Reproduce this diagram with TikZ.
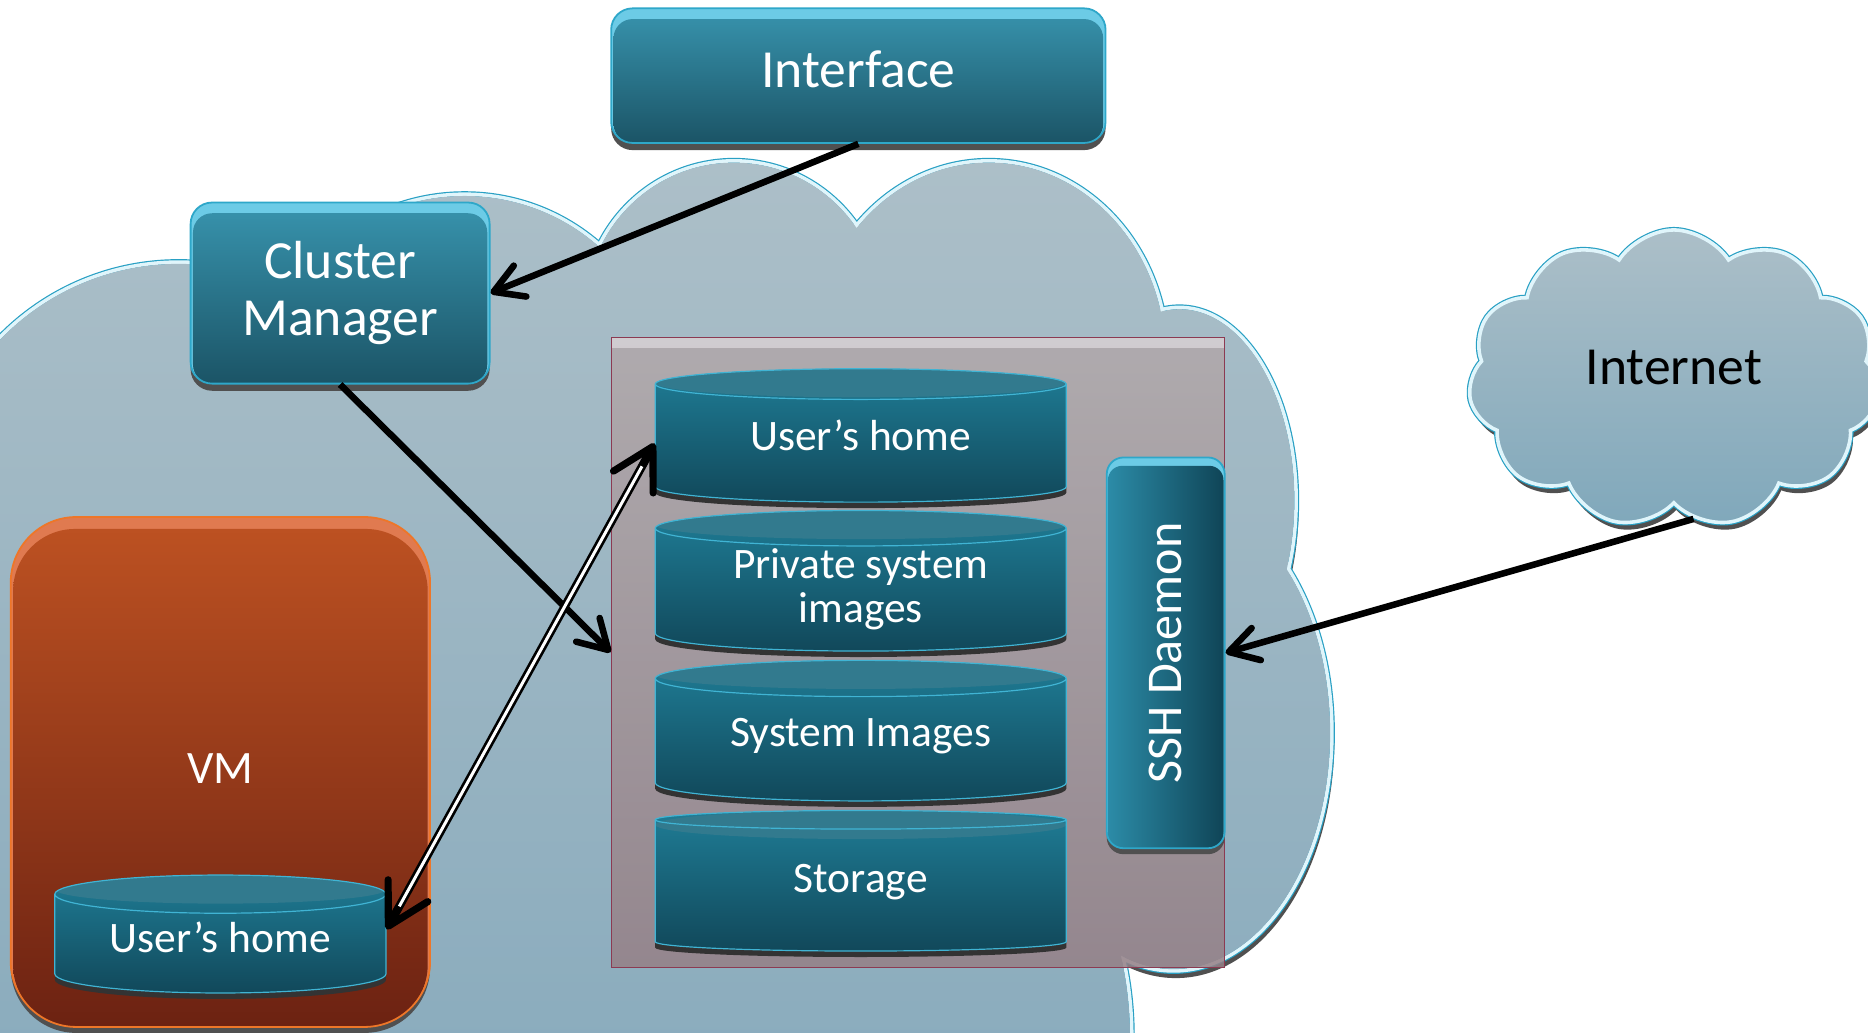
\documentclass[tikz,border=0pt]{standalone}
\usepackage{fontspec}
\setmainfont{Carlito}
\usetikzlibrary{positioning,shapes.geometric,shapes.symbols,shadows,arrows.meta,calc}

\definecolor{cloudtop}{RGB}{172,191,200}
\definecolor{cloudbot}{RGB}{128,166,186}
\definecolor{netbot}{RGB}{128,168,187}
\definecolor{cloudline}{RGB}{41,160,196}
\definecolor{cloudhl}{RGB}{224,245,251}
\definecolor{shadowc}{RGB}{80,80,80}
\definecolor{boxtop}{RGB}{56,148,174}
\definecolor{boxbot}{RGB}{27,84,102}
\definecolor{boxrim}{RGB}{108,203,230}
\definecolor{boxline}{RGB}{46,167,201}
\definecolor{cyltop}{RGB}{31,125,150}
\definecolor{cylbot}{RGB}{17,72,90}
\definecolor{cylend}{RGB}{50,122,142}
\definecolor{cylline}{RGB}{64,180,212}
\definecolor{vmtop}{RGB}{190,82,34}
\definecolor{vmbot}{RGB}{108,34,18}
\definecolor{vmrim}{RGB}{224,122,80}
\definecolor{vmline}{RGB}{238,118,40}
\definecolor{storetop}{RGB}{177,168,170}
\definecolor{storebot}{RGB}{150,128,134}
\definecolor{storeline}{RGB}{140,58,82}
\definecolor{storerim}{RGB}{214,210,214}
\definecolor{sshleft}{RGB}{44,140,168}
\definecolor{sshright}{RGB}{15,68,86}

\newcommand{\cloudbumps}{150/430/210/210, 390/330/170/167, 616/262/126/127, 830/300/150/165, 990/420/98/162, 985/615/133/200, 745/870/205/250, 480/640/520/330, 100/900/300/200}
\newcommand{\liftby}[2]{\raisebox{#1}[0pt][0pt]{#2}}

\begin{document}
\begin{tikzpicture}[x=1pt, y=-1pt,
  box/.style={rounded corners=18pt, draw=boxline, line width=1.5pt, fill=boxrim, text=white, inner sep=0pt, align=center, font=\fontsize{45}{48}\selectfont, drop shadow={shadow xshift=0pt, shadow yshift=-6pt, fill=shadowc, opacity=1}, path picture={\shade[top color=boxtop, bottom color=boxbot, rounded corners=16pt] ([shift={(2pt,-9pt)}]path picture bounding box.north west) rectangle ([shift={(-2pt,0pt)}]path picture bounding box.south east);}},
  vmbox/.style={rounded corners=55pt, draw=vmline, line width=1.5pt, fill=vmrim, text=white, inner sep=0pt, font=\fontsize{39}{42}\selectfont, drop shadow={shadow xshift=0pt, shadow yshift=-5pt, fill=shadowc, opacity=1}, path picture={\shade[top color=vmtop, bottom color=vmbot, rounded corners=52pt] ([shift={(2pt,-10pt)}]path picture bounding box.north west) rectangle ([shift={(-2pt,0pt)}]path picture bounding box.south east);}},
  store/.style={draw=storeline, line width=1pt, top color=storetop, bottom color=storebot, fill opacity=0.85, inner sep=0pt, path picture={\fill[storerim] (path picture bounding box.north west) rectangle ([yshift=-9pt]path picture bounding box.north east);}},
  cyl/.style={cylinder, shape border rotate=90, aspect=0.139, anchor=shape center, draw=cylline, line width=1pt, top color=cyltop, bottom color=cylbot, text=white, inner sep=0pt, minimum width=345pt, minimum height=118pt, font=\fontsize{36.5}{37}\selectfont, drop shadow={shadow xshift=0pt, shadow yshift=-5pt, fill=black!80, opacity=1}, path picture={\fill[cylend] let \p1=(path picture bounding box.west), \p2=(path picture bounding box.east) in ([yshift=-12pt]path picture bounding box.north) ellipse [x radius={(\x2-\x1)/2}, y radius=12pt];}},
  ssh/.style={rounded corners=14pt, draw=boxline, line width=1.5pt, fill=boxrim, text=white, inner sep=0pt, font=\fontsize{42}{44}\selectfont, drop shadow={shadow xshift=0pt, shadow yshift=-5pt, fill=shadowc, opacity=1}, path picture={\shade[left color=sshleft, right color=sshright, rounded corners=12pt] ([shift={(1pt,-7pt)}]path picture bounding box.north west) rectangle ([shift={(-1pt,0pt)}]path picture bounding box.south east);}},
  net/.style={cloud, cloud puffs=11, cloud puff arc=115, aspect=1.38, minimum width=345pt, minimum height=250pt, inner sep=0pt, draw=cloudhl, line width=3pt, top color=cloudtop, bottom color=netbot, drop shadow={shadow xshift=2pt, shadow yshift=-6pt, fill=shadowc, opacity=1}, preaction={draw=cloudline, line width=5pt}, text=black, font=\fontsize{45}{48}\selectfont},
  flow/.style={line width=5.5pt, -{Straight Barb[length=24pt, width=28pt, round]}},
  link/.style={line width=7pt, {Straight Barb[length=34pt, width=38pt, round, line width=6pt 0]}-{Straight Barb[length=34pt, width=38pt, round, line width=6pt 0]}},
  linkgap/.style={draw=white, line width=2.5pt, shorten <=22pt, shorten >=22pt}]
\useasboundingbox (0,0) rectangle (1568,867);
\clip (0,0) rectangle (1568,867);
\fill[white] (0,0) rectangle (1568,867);

\fill[shadowc] \foreach \cx/\cy/\rx/\ry in \cloudbumps {(\cx+2,\cy+6) ellipse [x radius=\rx, y radius=\ry]};
\draw[cloudline, line width=5pt] \foreach \cx/\cy/\rx/\ry in \cloudbumps {(\cx,\cy) ellipse [x radius=\rx, y radius=\ry]};
\draw[cloudhl, line width=3pt] \foreach \cx/\cy/\rx/\ry in \cloudbumps {(\cx,\cy) ellipse [x radius=\rx, y radius=\ry]};
\shade[top color=cloudtop, bottom color=cloudbot] \foreach \cx/\cy/\rx/\ry in \cloudbumps {(\cx,\cy) ellipse [x radius=\rx-1.5, y radius=\ry-1.5]};

\node[box, minimum width=415pt, minimum height=113pt] (int) at (720.5,63.5) {\liftby{-10pt}{Interface}};
\node[box, minimum width=251pt, minimum height=152pt] (cm) at (285.5,246) {Cluster\\Manager};
\node[vmbox, minimum width=352pt, minimum height=428pt] (vm) at (185,648) {\liftby{-10pt}{VM}};
\node[cyl, minimum width=278pt, minimum height=99pt, aspect=0.173] (vmhome) at (185,784) {\liftby{-7.5pt}{User’s home}};
\node[store, minimum width=515pt, minimum height=529pt] (store) at (770.5,547.5) {};
\node[cyl, minimum height=112pt] (home) at (722.5,365.5) {\liftby{-6pt}{User’s home}};
\node[cyl] (priv) at (722.5,487.5) {\liftby{-7.5pt}{\begin{tabular}{@{}c@{}}Private system\\images\end{tabular}}};
\node[cyl] (sysimg) at (722.5,613.3) {\liftby{-5.5pt}{System Images}};
\node[cyl] (storage) at (722.5,739.3) {\liftby{-5.5pt}{Storage}};
\node[ssh, minimum width=99pt, minimum height=328pt] (ssh) at (978.5,548) {\rotatebox{90}{SSH Daemon}};
\node[net] (inet) at (1405,318) {\liftby{-4.5pt}{Internet}};

\draw[flow] (int.south) -- (cm.east);
\draw[flow] (cm.south) -- (store.west);
\draw[link] (vmhome.5) -- (home.180);
\draw[linkgap] (vmhome.5) -- (home.180);
\draw[flow] (inet.-82) -- (ssh.east);
\end{tikzpicture}
\end{document}
